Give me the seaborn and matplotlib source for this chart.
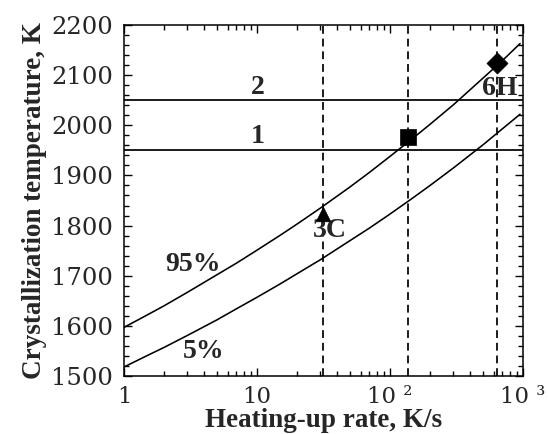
import matplotlib
matplotlib.use("Agg")
import matplotlib.pyplot as plt
from matplotlib.ticker import LogLocator, MultipleLocator, FixedLocator, FixedFormatter, NullFormatter
import seaborn as sns
import pandas as pd

# ---- data ----
rate = [1, 1.5, 2, 3, 5, 7, 10, 15, 20, 30, 50, 70, 100, 150, 200, 300, 500, 700, 950]
temp_95 = [1597, 1622, 1640, 1667, 1702, 1725, 1751, 1781, 1803, 1835, 1877, 1906,
           1938, 1975, 2002, 2041, 2094, 2129, 2163]
temp_5 = [1518, 1541, 1557, 1581, 1612, 1634, 1657, 1684, 1704, 1732, 1770, 1795,
          1823, 1856, 1880, 1915, 1961, 1993, 2022]

h_levels = [1950, 2050]
h_labels = ["1", "2"]
h_label_x = [10.2, 10.2]
h_label_y = [1977, 2076]

v_rates = [31.4, 137, 634]

pt_rate = [31.4, 137, 634]
pt_temp = [1824, 1977, 2125]
pt_marker = ["^", "s", "D"]

txt_labels = ["3C", "6H", "95%", "5%"]
txt_x = [35.1, 670, 3.32, 3.99]
txt_y = [1790, 2073, 1723, 1548]

xtick_vals = [1, 10, 100, 1000]
xtick_labels = ["1", "10", "10 \u00b2", "10 \u00b3"]

# ---- figure ----
sns.set_style("ticks")
plt.rcParams["font.family"] = ["DejaVu Serif"]

fig = plt.figure(figsize=(5.48, 4.34), dpi=100)
ax = fig.add_axes([0.2263, 0.1336, 0.7281, 0.8088])

df = pd.DataFrame({"rate": rate + rate,
                   "temp": temp_95 + temp_5,
                   "curve": ["95%"] * len(rate) + ["5%"] * len(rate)})
sns.lineplot(data=df, x="rate", y="temp", units="curve", estimator=None,
             color="black", lw=1.15, ax=ax, legend=False)

for h in h_levels:
    ax.axhline(h, color="black", lw=1.25)
for v in v_rates:
    ax.axvline(v, color="black", lw=1.25, linestyle=(0, (4.5, 2.8)))

for x, y, m in zip(pt_rate, pt_temp, pt_marker):
    size = {"^": 110, "s": 130, "D": 115}[m]
    sns.scatterplot(x=[x], y=[y], marker=m, s=size, color="black",
                    edgecolor="black", linewidth=0.5, ax=ax, legend=False, zorder=5)

bold = dict(family="Liberation Serif", fontweight="bold", fontsize=20,
            ha="center", va="center")
for lab, x, y in zip(h_labels, h_label_x, h_label_y):
    ax.text(x, y, lab, **bold)
for lab, x, y in zip(txt_labels, txt_x, txt_y):
    ax.text(x, y, lab, **bold)

ax.set_xscale("log")
ax.set_xlim(1, 1000)
ax.set_ylim(1500, 2200)

ax.xaxis.set_major_locator(FixedLocator(xtick_vals))
ax.xaxis.set_major_formatter(FixedFormatter(xtick_labels))
ax.xaxis.set_minor_locator(LogLocator(base=10, subs=range(2, 10)))
ax.xaxis.set_minor_formatter(NullFormatter())
ax.yaxis.set_major_locator(MultipleLocator(100))
ax.yaxis.set_minor_locator(MultipleLocator(20))

ax.tick_params(which="both", direction="in", top=True, right=True,
               color="black", width=1.0)
ax.tick_params(which="major", length=6)
ax.tick_params(which="minor", length=3.5)
ax.tick_params(axis="y", which="major", labelsize=17.5, pad=8)
ax.tick_params(axis="x", which="major", labelsize=16.5, pad=7)

for s in ax.spines.values():
    s.set_visible(True)
    s.set_linewidth(1.1)
    s.set_color("black")

ax.set_xlabel("Heating-up rate, K/s", family="Liberation Serif",
              fontweight="bold", fontsize=19.5, labelpad=0)
ax.set_ylabel("Crystallization temperature, K", family="Liberation Serif",
              fontweight="bold", fontsize=19.5, labelpad=3)

fig.savefig("out.png", dpi=100)
